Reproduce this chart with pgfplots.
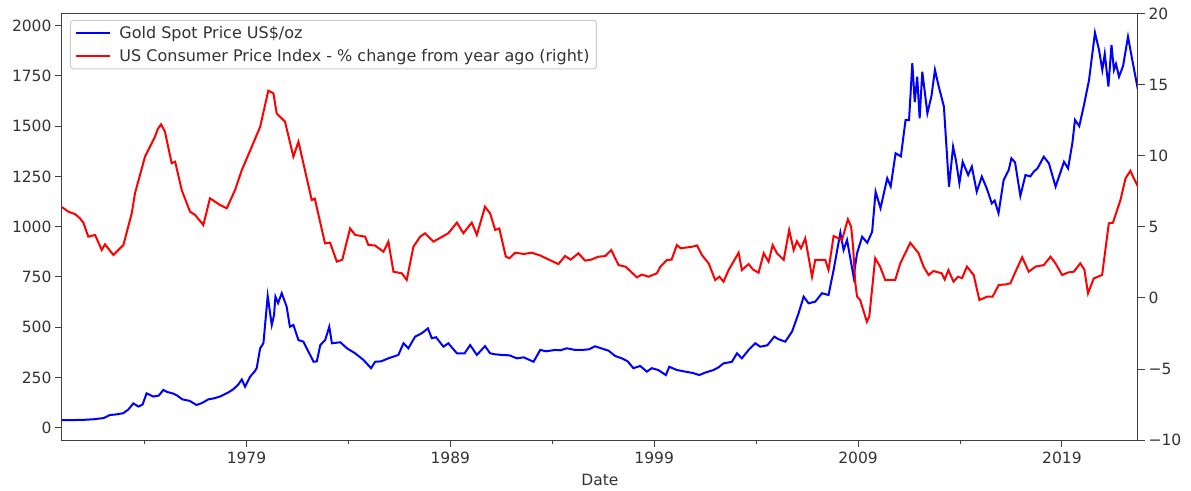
\documentclass[border=0pt]{standalone}
\usepackage{fontspec}
\setmainfont{DejaVu Sans}
\usepackage{pgfplots}
\pgfplotsset{compat=1.18}
\definecolor{spine}{gray}{0.25}
\definecolor{txt}{gray}{0.2}
\begin{document}
\begin{tikzpicture}
\pgfplotsset{
  every axis/.append style={
    width=1076pt, height=426pt, scale only axis,
    xmin=1969.95, xmax=2022.73,
    tick align=outside,
    major tick length=7pt, minor tick length=4pt,
    every tick/.style={spine, line width=1pt},
    axis line style={spine, line width=1pt},
    tick label style={font=\fontsize{15.5}{18}\selectfont, text=txt},
    label style={font=\fontsize{15.5}{18}\selectfont, text=txt},
    /pgf/number format/assume math mode=true,
  }
}
\begin{axis}[
  ymin=-61.2, ymax=2058,
  xtick={1979,1989,1999,2009,2019},
  xticklabels={1979,1989,1999,2009,2019},
  minor xtick={1974,1984,1994,2004,2014},
  ytick={0,250,500,750,1000,1250,1500,1750,2000},
  yticklabels={0,250,500,750,1000,1250,1500,1750,2000},
  xtick pos=left, ytick pos=left,
  xticklabel style={yshift=-1pt},
  xlabel={Date},
  xlabel style={yshift=-4pt},
]
\addplot[blue, line width=2pt] coordinates {
(1969.95,38) (1970.5,38) (1971.0,39) (1971.5,42) (1972.0,48) (1972.3,63) (1972.6,66) (1972.95,72)
(1973.2,90) (1973.45,121) (1973.7,105) (1973.9,115) (1974.1,171) (1974.43,155) (1974.7,160) (1974.92,188)
(1975.1,178) (1975.4,170) (1975.6,160) (1975.85,141) (1976.2,134) (1976.55,113) (1976.8,122) (1977.13,141)
(1977.4,146) (1977.7,155) (1977.9,165) (1978.1,175) (1978.35,191) (1978.6,215) (1978.77,240) (1978.93,204)
(1979.18,254) (1979.4,280) (1979.5,296) (1979.67,395) (1979.83,420) (1980.04,655) (1980.24,511)
(1980.35,560) (1980.42,652) (1980.55,620) (1980.73,669) (1980.97,602) (1981.13,502) (1981.3,511)
(1981.55,436) (1981.79,428) (1982.04,378) (1982.29,328) (1982.45,330) (1982.62,411) (1982.86,436)
(1983.06,502) (1983.19,420) (1983.6,425) (1983.93,395) (1984.33,370) (1984.74,337) (1985.11,296)
(1985.31,328) (1985.6,330) (1985.96,345) (1986.45,362) (1986.7,420) (1986.94,395) (1987.27,453)
(1987.6,470) (1987.9,494) (1988.09,445) (1988.3,450) (1988.66,403) (1988.9,420) (1989.32,370)
(1989.7,370) (1989.97,411) (1990.3,362) (1990.7,406) (1990.95,370) (1991.2,365) (1991.52,362)
(1991.9,360) (1992.26,345) (1992.6,350) (1993.08,328) (1993.41,387) (1993.7,380) (1994.14,387)
(1994.4,385) (1994.71,395) (1995.12,387) (1995.5,387) (1995.8,390) (1996.1,405) (1996.4,395)
(1996.76,383) (1997.08,357) (1997.41,345) (1997.7,330) (1997.98,296) (1998.31,307) (1998.64,279)
(1998.88,296) (1999.2,287) (1999.57,262) (1999.74,303) (2000.11,287) (2000.52,279) (2000.9,272)
(2001.21,262) (2001.5,274) (2001.91,287) (2002.15,300) (2002.4,320) (2002.81,328) (2003.06,370)
(2003.3,345) (2003.63,387) (2003.96,420) (2004.2,403) (2004.55,410) (2004.89,453) (2005.1,440)
(2005.43,428) (2005.76,478) (2006.08,569) (2006.33,652) (2006.57,619) (2006.9,627) (2007.23,669)
(2007.55,660) (2007.8,785) (2008.13,970) (2008.29,884) (2008.46,934) (2008.78,751) (2008.95,868)
(2009.2,950) (2009.45,920) (2009.69,975) (2009.86,1174) (2010.1,1092) (2010.43,1241) (2010.6,1200)
(2010.84,1365) (2011.1,1350) (2011.33,1531) (2011.5,1530) (2011.66,1813) (2011.78,1620) (2011.9,1746)
(2012.02,1539) (2012.15,1771) (2012.4,1564) (2012.6,1650) (2012.77,1780) (2012.95,1700) (2013.21,1597)
(2013.46,1199) (2013.66,1398) (2013.8,1330) (2013.97,1216) (2014.13,1323) (2014.4,1257) (2014.58,1299)
(2014.82,1174) (2015.07,1249) (2015.31,1191) (2015.56,1116) (2015.7,1130) (2015.89,1067) (2016.14,1232)
(2016.39,1282) (2016.52,1340) (2016.7,1320) (2016.96,1153) (2017.21,1257) (2017.45,1250) (2017.62,1274)
(2017.8,1290) (2018.11,1348) (2018.36,1315) (2018.69,1199) (2019.1,1323) (2019.3,1290) (2019.51,1415)
(2019.64,1531) (2019.85,1500) (2020.08,1605) (2020.33,1730) (2020.62,1965) (2020.82,1879) (2020.98,1780)
(2021.1,1860) (2021.28,1697) (2021.43,1904) (2021.55,1780) (2021.65,1810) (2021.8,1746) (2022.0,1800)
(2022.24,1945) (2022.45,1829) (2022.73,1680)
};
\end{axis}
\begin{axis}[
  ymin=-10, ymax=20,
  axis x line=none,
  axis y line*=right,
  ytick={-10,-5,0,5,10,15,20},
  yticklabels={−10,−5,0,5,10,15,20},
  legend cell align=left,
  legend image code/.code={\draw[#1] (0pt,0pt) -- (34pt,0pt);},
  legend style={at={(0.0074,0.986)}, anchor=north west,
    draw=black!20, line width=1pt, rounded corners=3pt,
    fill=white, fill opacity=0.8, text opacity=1,
    font=\fontsize{16}{19}\selectfont, text=txt,
    inner xsep=5pt, inner ysep=4pt, row sep=5pt,
    /tikz/every odd column/.append style={column sep=6pt}},
]
\addlegendimage{blue, line width=2pt}
\addlegendentry{Gold Spot Price US\$/oz}
\addplot[red, line width=2pt] coordinates {
(1969.95,6.4) (1970.26,6.08) (1970.6,5.9) (1970.83,5.61) (1971.0,5.3) (1971.24,4.32) (1971.57,4.44)
(1971.9,3.38) (1972.06,3.78) (1972.47,3.03) (1972.96,3.73) (1973.37,5.96) (1973.53,7.37) (1974.02,9.95)
(1974.51,11.36) (1974.65,11.9) (1974.81,12.23) (1975.0,11.71) (1975.33,9.49) (1975.5,9.6) (1975.82,7.61)
(1976.23,6.08) (1976.48,5.85) (1976.88,5.14) (1977.21,7.02) (1977.7,6.55) (1978.03,6.32) (1978.44,7.61)
(1978.77,9.01) (1979.26,10.66) (1979.67,12.06) (1980.07,14.6) (1980.32,14.42) (1980.48,13.0)
(1980.89,12.42) (1981.3,9.95) (1981.55,11.0) (1982.2,6.9) (1982.35,7.0) (1982.85,3.85) (1983.1,3.9)
(1983.43,2.56) (1983.7,2.7) (1984.08,4.9) (1984.33,4.44) (1984.82,4.32) (1984.98,3.73) (1985.3,3.7)
(1985.72,3.26) (1985.96,3.97) (1986.21,1.85) (1986.62,1.74) (1986.86,1.27) (1987.19,3.62) (1987.52,4.32)
(1987.76,4.56) (1988.17,3.97) (1988.9,4.56) (1989.32,5.31) (1989.64,4.56) (1990.05,5.31) (1990.3,4.44)
(1990.7,6.43) (1990.95,5.96) (1991.2,4.79) (1991.4,4.9) (1991.72,2.91) (1991.9,2.8) (1992.18,3.19)
(1992.6,3.1) (1992.99,3.19) (1993.4,3.0) (1993.81,2.72) (1994.3,2.39) (1994.63,2.96) (1994.9,2.7)
(1995.28,3.15) (1995.61,2.63) (1995.9,2.7) (1996.26,2.91) (1996.6,2.95) (1996.89,3.38) (1997.25,2.32)
(1997.6,2.2) (1998.15,1.46) (1998.4,1.65) (1998.72,1.5) (1999.13,1.74) (1999.3,2.2) (1999.62,2.68)
(1999.85,2.7) (2000.11,3.73) (2000.3,3.5) (2000.85,3.61) (2001.1,3.7) (2001.34,3.03) (2001.67,2.44)
(2001.99,1.27) (2002.2,1.5) (2002.4,1.15) (2002.65,1.97) (2003.14,3.19) (2003.3,1.97) (2003.63,2.39)
(2003.85,2.0) (2004.12,1.78) (2004.37,3.15) (2004.61,2.56) (2004.81,3.73) (2005.02,3.15) (2005.35,2.68)
(2005.62,4.79) (2005.84,3.38) (2006.0,4.0) (2006.2,3.5) (2006.41,4.2) (2006.74,1.5) (2006.9,2.68)
(2007.39,2.68) (2007.55,1.97) (2007.8,4.37) (2008.21,4.08) (2008.5,5.54) (2008.66,5.02) (2008.75,3.7)
(2008.86,1.1) (2008.95,0.1) (2009.1,-0.14) (2009.43,-1.67) (2009.55,-1.3) (2009.84,2.8) (2010.08,2.21)
(2010.33,1.27) (2010.82,1.27) (2011.07,2.44) (2011.56,3.89) (2011.97,3.15) (2012.21,2.21) (2012.46,1.62)
(2012.7,1.9) (2013.1,1.74) (2013.25,1.3) (2013.43,1.97) (2013.68,1.15) (2013.9,1.5) (2014.1,1.4)
(2014.34,2.21) (2014.67,1.62) (2014.95,-0.14) (2015.33,0.09) (2015.6,0.1) (2015.9,0.92) (2016.2,0.95)
(2016.47,1.03) (2016.72,1.85) (2017.05,2.87) (2017.37,1.85) (2017.7,2.21) (2018.11,2.32) (2018.44,2.91)
(2018.7,2.4) (2019.01,1.62) (2019.3,1.8) (2019.58,1.85) (2019.9,2.44) (2020.1,2.0) (2020.28,0.33)
(2020.56,1.38) (2020.97,1.62) (2021.3,5.26) (2021.5,5.3) (2021.87,6.9) (2022.12,8.43) (2022.36,8.96)
(2022.5,8.5) (2022.73,7.84)
};
\addlegendentry{US Consumer Price Index - \% change from year ago (right)}
\end{axis}
\pgfresetboundingbox
\path (-62pt,-50pt) rectangle (1129pt,440pt);
\end{tikzpicture}
\end{document}
